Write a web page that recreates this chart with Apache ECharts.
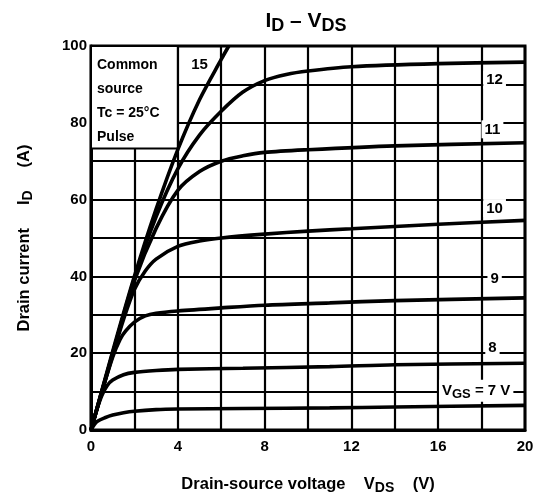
<!DOCTYPE html>
<html>
<head>
<meta charset="utf-8">
<script src="https://cdn.jsdelivr.net/npm/echarts@6/dist/echarts.min.js"></script>
<style>
  html, body { margin: 0; padding: 0; background: #fff; }
  #chart { width: 537px; height: 503px; }
</style>
</head>
<body>
<div id="chart"></div>
<script>
// ID - VDS curves, [VDS (V), ID (A)]
const vgs7 = [[0,0],[0.15,1.4],[0.3,2.3],[0.64,3.2],[1,3.9],[1.5,4.5],[2,4.9],[3,5.3],[4,5.45],[7,5.6],[11,5.75],[14,6],[20,6.4]];
const vgs8 = [[0,0],[0.25,5],[0.5,9],[0.75,11.6],[1,13],[1.5,14.4],[2,15],[3,15.5],[4,15.8],[7,16.1],[11,16.5],[14,17],[20,17.4]];
const vgs9 = [[0,0],[0.5,10],[1,19],[1.34,23.6],[1.6,25.8],[2,28.1],[2.5,29.7],[3,30.4],[4,31],[6,31.8],[8,32.5],[11,33.1],[14,33.7],[20,34.4]];
const vgs10 = [[0,0],[1,19.5],[1.5,28.8],[2,36.6],[2.5,41.4],[3,44.5],[4,47.8],[5,49.2],[6,50],[8,51],[10,51.8],[12,52.4],[16,53.6],[20,54.6]];
const vgs11 = [[0,0],[1,20],[2,38.8],[3,52.5],[4,62.4],[5,67.3],[6,70],[7,71.4],[8,72.3],[10,73],[14,74],[20,74.8]];
const vgs12 = [[0,0],[1,20],[2,39.5],[3,55.5],[4,68],[5,76.8],[6,83],[7,88],[8,91],[9,92.6],[10,93.5],[12,94.6],[16,95.4],[20,95.8]];
const vgs15 = [[0,0],[1,20.5],[2,40],[3,57.5],[4,73],[5,86],[6,96.5],[6.35,100]];

const xTicks = [0, 4, 8, 12, 16, 20];
const yTicks = [0, 20, 40, 60, 80, 100];

// condition box (data space corners) and curve tags
const noteBox = [[0, 73.3], [4, 100]];
const noteLines = ['Common', 'source', 'Tc = 25°C', 'Pulse'];
const curveTags = [
  {v: 5.0, i: 95.2, text: '15', bg: false},
  {v: 18.6, i: 91.2, text: '12', bg: true},
  {v: 18.5, i: 78.3, text: '11', bg: true},
  {v: 18.6, i: 57.8, text: '10', bg: true},
  {v: 18.6, i: 39.6, text: '9', bg: true},
  {v: 18.5, i: 21.4, text: '8', bg: true},
  {v: 17.75, i: 10.2, text: '{m|V}{s|GS}{m| = 7 V}', bg: true}
];

const FONT = '"Liberation Sans", Arial, sans-serif';
const curves = [vgs7, vgs8, vgs9, vgs10, vgs11, vgs12, vgs15];

const chart = echarts.init(document.getElementById('chart'));

const lineSeries = curves.map((d, k) => ({
  type: 'line',
  data: d,
  smooth: 0.3,
  showSymbol: false,
  silent: true,
  clip: true,
  z: 3,
  lineStyle: {color: '#000', width: 3.6},
  markArea: k === 0 ? {
    silent: true,
    itemStyle: {color: '#fff', borderColor: '#000', borderWidth: 2},
    label: {show: false},
    data: [[{coord: noteBox[0]}, {coord: noteBox[1]}]]
  } : undefined
}));

const tagText = {fontFamily: FONT, fontWeight: 'bold', color: '#000', textBorderWidth: 0, textBorderColor: 'transparent'};

const tagSeries = {
  type: 'scatter',
  symbolSize: 0,
  silent: true,
  z: 5,
  itemStyle: {color: '#000', opacity: 1},
  data: curveTags.map(t => ({
    value: [t.v, t.i],
    label: Object.assign({
      show: true,
      position: 'inside',
      formatter: t.text,
      fontSize: 15,
      backgroundColor: t.bg ? '#fff' : 'transparent',
      padding: [2, 3, 1, 3],
      rich: {
        m: Object.assign({fontSize: 15}, tagText),
        s: Object.assign({fontSize: 13, padding: [6, 0, 0, 0]}, tagText)
      }
    }, tagText)
  }))
};

const nameRich = {
  b: {fontFamily: FONT, fontWeight: 'bold', fontSize: 16.5, color: '#000'},
  s: {fontFamily: FONT, fontWeight: 'bold', fontSize: 14, color: '#000', padding: [8, 0, 0, 0]}
};

chart.setOption({
  animation: false,
  backgroundColor: '#fff',
  title: {
    text: '{m|I}{s|D}{m| – V}{s|DS}',
    left: 301,
    textAlign: 'center',
    top: 3,
    textStyle: {
      rich: {
        m: {fontFamily: FONT, fontSize: 21, color: '#000'},
        s: {fontFamily: FONT, fontSize: 18, color: '#000', padding: [9, 0, 0, 0]}
      }
    }
  },
  grid: {
    left: 91, right: 12, top: 46, bottom: 73,
    show: true, borderColor: '#000', borderWidth: 3, backgroundColor: '#fff'
  },
  xAxis: {
    type: 'value', min: 0, max: 20, interval: 2,
    name: '{b|Drain-source voltage    V}{s|DS}{b|    (V)}',
    nameLocation: 'middle', nameGap: 43,
    nameTextStyle: {rich: nameRich},
    axisLine: {lineStyle: {color: '#000', width: 3}},
    axisTick: {show: false},
    axisLabel: {
      margin: 9, color: '#000', fontFamily: FONT, fontWeight: 'bold', fontSize: 15,
      formatter: v => xTicks.includes(v) ? String(v) : ''
    },
    splitLine: {lineStyle: {color: '#000', width: 2.2}}
  },
  yAxis: {
    type: 'value', min: 0, max: 100, interval: 10,
    name: '{b|Drain current     I}{s|D}{b|     (A)}',
    nameLocation: 'middle', nameGap: 56, nameRotate: 90,
    nameTextStyle: {rich: nameRich},
    axisLine: {lineStyle: {color: '#000', width: 3}},
    axisTick: {show: false},
    axisLabel: {
      margin: 4, color: '#000', fontFamily: FONT, fontWeight: 'bold', fontSize: 15,
      formatter: v => yTicks.includes(v) ? String(v) : ''
    },
    splitLine: {lineStyle: {color: '#000', width: 2.2}}
  },
  graphic: [],
  series: lineSeries.concat([tagSeries])
});

// condition text inside the white box, anchored to the box's data corner
const boxTopLeft = chart.convertToPixel({gridIndex: 0}, [noteBox[0][0], noteBox[1][1]]);
chart.setOption({
  graphic: [{
    type: 'text',
    left: boxTopLeft[0] + 6,
    top: boxTopLeft[1] + 7,
    z: 10,
    style: {
      text: noteLines.join('\n'),
      font: 'bold 14px ' + FONT,
      lineHeight: 24,
      fill: '#000'
    }
  }]
});
</script>
</body>
</html>
